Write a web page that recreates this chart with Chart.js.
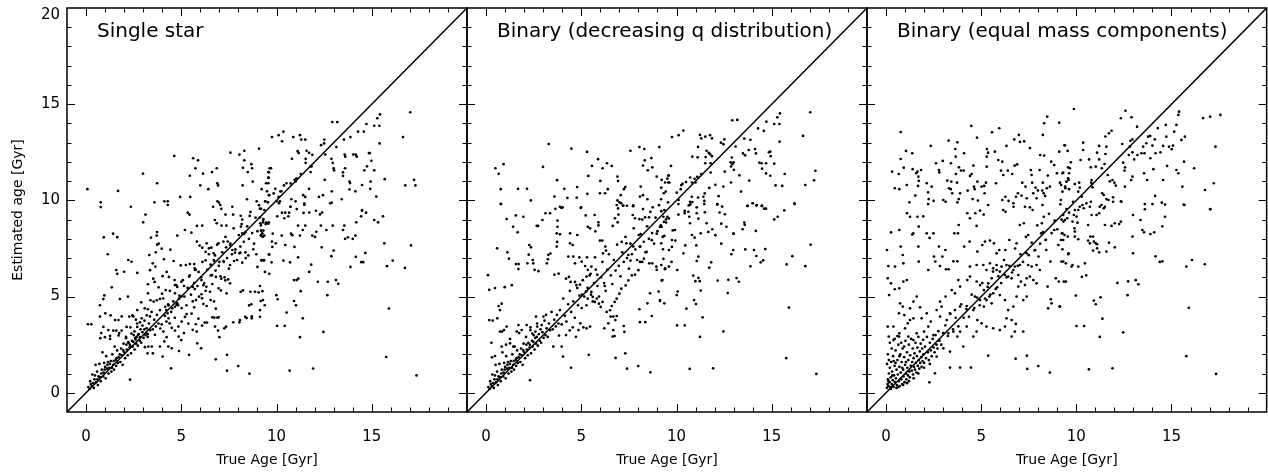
<!DOCTYPE html>
<html>
<head>
<meta charset="utf-8">
<script src="https://cdn.jsdelivr.net/npm/chart.js@4.4.1/dist/chart.umd.min.js"></script>
<style>
html,body{margin:0;padding:0;background:#fff;}
#wrap{position:relative;width:1268px;height:473px;}
#wrap canvas{position:absolute;left:0;top:0;}
</style>
</head>
<body>
<div id="wrap">
<canvas id="c1" width="1268" height="473"></canvas>
<canvas id="c2" width="1268" height="473"></canvas>
<canvas id="c3" width="1268" height="473"></canvas>
</div>
<script>
// ---------------- DATA ----------------
const panelTitles = ["Single star", "Binary (decreasing q distribution)", "Binary (equal mass components)"];
const xTitle = "True Age [Gyr]";
const yTitle = "Estimated age [Gyr]";
const axisRange = [-1, 20];
const xTickLabels = [0, 5, 10, 15];
const yTickLabels = [0, 5, 10, 15, 20];
const oneToOne = [[-1, -1], [20, 20]];

// dense core along the 1:1 line (young stars), seen in panels 1 and 2
const diagonalCore = [[0.12,0.3],[0.18,0.2],[0.22,0.6],[0.3,0.35],[0.33,0.95],[0.41,0.25],[0.44,0.7],[0.5,1.45],[0.53,0.55],[0.58,1.1],[0.62,0.4],[0.66,0.85],[0.7,1.5],[0.74,0.8],[0.77,0.6],[0.83,1.2],[0.86,2.1],[0.9,0.85],[0.95,1.55],[0.98,1.2],[1.03,0.75],[1.06,1.9],[1.1,1.25],[1.15,1.6],[1.18,1.0],[1.22,1.3],[1.26,2.8],[1.3,1.65],[1.33,1.1],[1.38,2.0],[1.42,1.45],[1.47,1.2],[1.5,2.4],[1.55,1.7],[1.58,1.4],[1.63,2.2],[1.67,1.55],[1.71,1.85],[1.74,3.1],[1.8,1.6],[1.84,2.3],[1.88,1.95],[1.92,1.45],[1.97,2.55],[2.01,2.1],[2.05,1.8],[2.1,2.9],[2.14,2.25],[2.19,1.95],[2.22,2.6],[2.28,2.35],[2.33,3.4],[2.36,2.05],[2.41,2.7],[2.45,2.4],[2.5,3.0],[2.55,2.25],[2.58,2.85],[2.63,2.55],[2.68,3.6],[2.72,2.45],[2.77,3.05],[2.82,2.7],[2.86,3.3],[2.9,2.6],[2.96,3.15],[3.02,2.85],[3.07,3.75],[3.12,3.0],[3.18,3.35],[3.24,2.9],[3.3,3.6],[3.36,3.25],[3.44,4.2],[3.5,3.3],[3.58,3.8],[3.66,3.45],[3.72,4.05],[3.8,3.6],[0.25,0.45],[0.38,0.5],[0.47,0.9],[0.6,0.7],[0.8,1.0],[0.92,1.05],[1.0,1.35],[1.12,1.45],[1.25,1.5],[1.36,1.3],[1.45,1.65],[1.6,1.8],[1.77,2.0],[1.95,2.2],[2.12,2.5],[2.3,2.5],[2.48,2.65],[2.66,2.9],
[3.88,4.3],[3.97,3.55],[4.05,4.9],[4.14,4.0],[4.22,3.7],[4.31,4.6],[4.4,5.3],[4.47,4.2],[4.58,4.75],[4.66,3.9],[4.74,5.6],[4.83,4.55],[4.9,5.05],[5.02,4.4],[5.08,5.85],[5.16,5.0],[5.27,4.55],[5.33,5.45],[5.44,6.1],[5.51,5.1],[5.6,4.75],[5.67,5.7],[5.76,6.4],[5.85,5.55],[5.93,5.0],[6.04,6.0],[6.11,6.8],[6.2,5.7],[6.28,5.3],[6.37,6.4],[6.45,7.2],[6.55,6.1],[6.63,5.65],[6.71,6.9],[6.8,6.35],[6.88,7.7],[6.97,6.6],[7.06,6.05],[7.15,7.3],[7.23,6.8],[7.32,8.1],[7.4,7.0],[7.5,6.45],[7.58,7.75],[7.66,7.2],[7.75,8.55],[7.84,7.45],[7.93,6.9],[8.02,8.2],[8.1,7.6],[8.2,9.0],[8.28,7.85],[8.37,7.3],[8.46,8.65],[8.55,8.0],[8.63,9.4],[8.72,8.3],[8.82,7.75],[8.9,9.1],[9.0,8.4],[9.08,9.75],[9.18,8.7],[9.27,8.1],[9.36,9.5],[9.45,8.85],[9.55,9.9]];

const singleStar = [[0.07,10.58],[0.77,9.9],[0.77,9.65],[1.68,10.49],[2.35,9.67],[2.99,11.39],[3.73,10.89],[3.59,9.9],[4.11,9.95],[4.29,9.95],[4.29,9.76],[4.63,12.31],[4.94,10.18],[5.47,10.18],[5.45,11.28],[5.62,12.19],[5.74,11.67],[5.88,12.08],[6.0,10.78],[6.14,11.39],[6.42,10.58],[6.61,11.47],[6.86,11.67],[6.89,10.89],[6.93,10.78],[6.9,9.95],[6.98,9.88],[7.05,9.76],[7.1,9.56],[6.67,9.67],[7.58,12.48],[8.05,12.38],[8.31,12.58],[8.31,12.08],[9.08,12.69],[8.24,11.69],[8.49,11.47],[8.68,11.88],[8.72,11.67],[8.75,10.98],[8.22,10.78],[8.45,10.06],[8.96,9.95],[9.19,9.56],[9.22,10.58],[9.42,9.95],[9.57,11.47],[9.57,11.18],[9.57,10.89],[9.6,10.27],[7.68,9.67],
[17.02,14.58],[15.43,14.47],[15.29,14.27],[15.13,13.88],[15.4,13.88],[14.72,13.97],[12.93,14.07],[13.19,14.07],[14.28,13.57],[14.58,13.57],[15.41,12.96],[16.64,13.29],[9.76,13.29],[10.11,13.39],[10.36,13.57],[10.29,13.07],[10.88,13.29],[11.23,13.39],[11.3,13.16],[11.51,13.16],[12.34,12.87],[12.5,12.96],[12.51,13.16],[13.54,13.16],[13.88,13.29],[13.14,12.77],[14.85,12.46],[14.9,12.46],[14.98,12.06],[14.03,12.38],[14.16,12.38],[14.21,12.27],[13.58,12.38],[13.61,12.27],[12.56,12.38],[12.88,12.16],[12.95,11.95],[13.0,11.67],[13.02,11.56],[13.6,11.67],[13.49,11.46],[13.49,11.27],[14.75,11.77],[14.61,11.56],[15.13,11.56],[14.94,10.98],[14.92,10.6],[15.24,10.2],[14.49,10.8],[15.68,11.1],[13.83,10.98],[13.86,10.9],[13.83,10.57],[14.14,10.47],[13.42,10.06],[16.76,10.78],[17.22,11.07],[17.29,10.78],[10.81,12.16],[11.11,12.56],[11.16,12.46],[11.53,12.16],[11.58,12.58],[11.71,12.47],[11.88,12.37],[11.53,11.95],[11.79,11.77],[11.84,11.77],[11.79,11.47],[11.71,10.6],[11.0,10.98],[10.95,11.07],[11.05,11.14],[10.74,10.88],[10.52,10.89],[10.39,10.78],[11.27,11.37],[9.64,11.67],[9.71,11.67],[9.6,11.46],[9.59,11.17],[9.45,10.89],[9.5,10.47],[9.94,10.6],[10.2,10.47],[10.25,10.47],[9.62,10.27],[9.85,10.36],[10.11,10.18],[10.01,9.95],[10.18,9.95],[10.13,9.85],[9.4,9.95],[10.78,10.06],[11.0,9.95],[10.73,9.67],[11.4,10.27],[11.51,10.18],[11.46,9.77],[12.23,10.18],[12.44,10.27],[12.9,10.47],[12.9,9.88],[12.53,11.07],[14.49,9.5],
[0.93,8.08],[1.42,8.27],[1.64,8.09],[1.14,7.2],[3.12,9.26],[3.0,8.86],[3.41,8.06],[3.71,8.17],[3.73,8.35],[3.81,7.75],[3.73,7.7],[3.97,7.49],[4.79,8.17],[5.19,8.46],[5.34,9.36],[5.43,9.26],[5.53,8.32],[5.82,8.67],[6.1,8.69],[5.82,7.86],[5.96,7.65],[6.1,7.54],[6.28,7.32],[6.76,8.98],[6.86,8.81],[7.11,8.69],[7.37,8.69],[7.32,9.26],[7.72,9.26],[8.12,9.2],[8.59,9.19],[8.17,8.77],[8.13,8.64],[8.2,8.29],[8.29,8.25],[8.36,8.34],[9.2,8.43],[9.25,8.29],[9.18,8.17],[9.15,8.81],[9.3,8.98],[9.57,8.79],[6.33,7.77],[6.45,7.51],[6.58,7.54],[6.7,7.25],[6.77,7.14],[6.95,7.77],[7.21,7.86],[7.44,7.86],[7.35,7.56],[7.56,7.68],[7.68,7.42],[7.82,7.28],[7.77,6.85],[8.05,7.25],[8.1,7.28],[7.56,6.64],[8.2,6.76],[8.38,7.0],[8.52,7.14],[8.78,7.46],[8.94,7.2],[9.0,6.54],[9.22,6.9],[9.35,6.9],[9.6,7.2],[9.13,5.55],[9.06,5.22],[8.87,5.25],[8.12,5.25],[8.24,5.32],[8.56,4.54],[8.63,5.25],[8.68,4.6],[8.7,3.97],[9.13,4.3],[9.29,4.82],[9.13,3.95],[8.36,3.95],[8.43,3.88],[8.08,3.78],[8.05,3.66],[7.73,3.66],[8.7,3.87],[6.28,6.88],[6.54,6.66],[6.73,6.85],[7.0,6.8],[7.22,6.85],[6.61,6.11],[6.82,6.02],[7.1,5.93],[7.27,6.0],[7.31,5.84],[7.46,5.89],[7.56,5.69],[7.38,5.17],[6.96,5.43],[7.08,5.32],[6.51,5.25],[6.32,5.51],[6.16,5.59],[6.06,5.86],[5.91,6.28],[5.72,6.38],[5.41,6.04],[5.14,5.55],[5.6,5.5],[5.71,5.39],[6.06,5.12],[6.09,4.91],[6.16,4.62],[6.33,4.51],[6.54,4.82],[6.72,4.75],[6.81,4.37],[6.63,3.92],[6.73,3.91],[6.89,3.91],[6.96,3.92],[6.23,3.65],[6.35,3.65],[6.09,3.49],[6.77,3.44],[6.93,3.23],[7.0,2.89],[7.26,3.35],[7.35,3.44],[6.81,1.74],[7.4,1.97],[7.4,1.15],[7.99,1.39],[8.58,0.99],[5.41,1.97],[4.88,2.17],[4.46,1.27],[4.02,1.88],[3.88,2.4],[4.23,2.89],[3.51,2.05],[3.23,2.05],[3.09,2.37],[2.31,0.68],[5.19,3.94],[5.28,4.09],[5.37,3.59],[5.54,4.11],[5.68,4.44],[5.77,4.82],[5.02,3.7],[4.85,3.44],[4.67,3.23],[4.5,3.37],[4.39,3.61],[4.33,3.87],[4.28,4.13],[4.21,4.3],[4.16,4.47],[4.33,4.54],[4.53,4.39],[4.67,4.47],[4.75,4.58],[4.79,4.65],[4.88,4.89],[4.67,5.17],[4.79,5.5],[5.0,5.0],[3.88,4.88],[3.71,4.81],[3.55,4.74],[3.38,4.81],[3.25,4.34],[3.08,4.39],[3.25,5.17],[3.81,5.48],[3.99,5.15],[4.18,5.34],[2.9,4.7],[2.69,4.3],[2.43,4.02],[2.27,3.96],[2.48,3.97],[2.62,3.8],[2.83,3.66],[2.96,3.49],[3.06,3.29],[3.15,3.11],[3.24,3.05],[2.69,3.42],[2.54,3.19],[2.38,3.08],[2.13,3.42],[1.87,3.23],[1.71,2.98],[1.59,3.23],[2.1,2.84],[2.22,2.63],[2.36,2.4],[2.6,2.77],[2.73,3.01],[2.83,2.89],[3.27,2.4],[3.45,2.4],[1.26,2.96],[0.99,2.89],[0.75,2.84],[0.8,3.1],[0.1,3.56],[0.28,3.56],[0.91,4.87],[1.35,5.48],[1.78,4.87],[2.2,5.0],[1.59,6.38],[1.64,6.18],[2.22,6.9],[2.39,6.81],[2.69,6.23],[2.0,6.29],[3.32,7.16],[3.5,6.73],[3.64,6.56],[3.36,6.37],[3.53,5.93],[3.6,5.76],[3.25,5.64],[4.02,6.06],[4.23,6.28],[4.35,6.02],[4.65,5.86],[4.67,5.6],[5.0,5.77],[4.97,6.62],[5.24,6.64],[5.45,6.69],[5.68,6.69],[5.7,6.47],[4.43,7.44],[4.6,6.85],[4.09,6.94],[3.66,7.3],[0.73,3.96],[1.01,4.13],[1.29,4.02],[1.52,3.78],[0.91,3.42],[1.17,3.26],[1.43,3.23],[1.87,3.97],[1.7,3.78],[3.19,4.03],[3.36,3.97],[2.92,3.87],[3.9,3.34],[4.06,3.18],[3.62,3.01],[4.11,2.67],[4.32,2.4],[4.5,2.31],[4.86,2.92],[5.0,2.74],[5.14,3.1],[5.6,3.27],[5.81,3.18],[5.84,2.57],[6.04,2.31],[5.76,3.56],[5.9,3.85],[0.73,4.55],[0.96,5.06],
[10.04,9.17],[10.29,9.36],[10.46,9.36],[10.41,9.07],[10.62,9.17],[10.66,9.36],[10.73,9.67],[9.13,9.57],[9.13,9.12],[9.31,9.03],[9.43,8.77],[9.59,8.86],[9.29,8.86],[9.19,8.43],[9.31,8.43],[9.19,8.19],[9.36,8.17],[9.8,8.27],[9.96,7.77],[9.76,7.86],[9.78,7.58],[9.62,7.18],[9.74,6.78],[9.2,6.87],[9.34,6.87],[9.39,6.28],[9.62,6.18],[9.26,5.28],[9.17,4.77],[9.38,4.55],[10.27,8.17],[10.76,8.27],[10.83,8.19],[10.46,7.68],[10.71,6.78],[10.94,7.58],[10.36,6.87],[9.99,5.07],[10.06,4.86],[10.53,4.17],[10.92,5.86],[11.06,5.86],[11.15,5.94],[10.92,4.77],[11.02,4.55],[11.27,5.28],[11.38,3.87],[10.03,3.48],[10.43,3.48],[11.23,2.89],[10.69,1.15],[11.92,1.26],[12.46,3.16],[11.13,8.69],[11.23,8.17],[11.42,9.35],[11.46,9.83],[11.06,9.55],[11.51,8.69],[11.38,8.46],[11.72,9.37],[11.88,8.17],[12.02,8.1],[12.09,8.37],[12.07,9.46],[12.28,9.27],[12.39,9.37],[11.13,7.04],[12.37,7.56],[12.62,8.46],[13.0,7.39],[12.88,7.1],[12.95,8.69],[12.33,8.69],[11.72,6.28],[11.82,6.66],[12.17,5.77],[12.69,5.77],[12.67,5.07],[13.12,5.86],[13.24,5.66],[12.82,9.85],[13.49,8.46],[13.56,8.69],[13.6,8.0],[13.75,8.08],[14.0,8.0],[14.14,8.17],[14.19,8.86],[14.44,9.17],[14.49,9.46],[14.7,9.36],[15.13,8.98],[15.33,8.86],[15.59,9.17],[14.16,7.06],[14.45,6.79],[14.55,6.79],[14.66,7.27],[13.88,6.54],[15.66,7.77],[15.8,6.58],[16.1,6.87],[16.74,6.49],[17.06,7.66],[15.9,4.38],[15.76,1.86],[17.35,0.9]];

const binaryDecreasingQ = [[0.49,11.67],[0.66,11.38],[0.92,11.88],[0.77,10.58],[0.77,9.82],[1.68,10.6],[2.15,10.6],[2.35,10.0],[2.99,11.74],[3.29,12.93],[3.73,11.05],[4.11,10.6],[3.59,10.2],[3.64,9.56],[3.96,9.61],[4.27,10.13],[4.78,10.69],[4.76,10.14],[4.48,12.69],[4.97,9.61],[5.3,12.52],[5.56,11.79],[5.88,12.14],[6.12,11.67],[6.35,11.93],[6.6,11.79],[5.37,11.27],[5.32,10.34],[5.98,10.37],[6.0,11.01],[6.25,10.37],[6.39,10.58],[6.9,11.24],[6.93,11.01],[7.31,10.69],[7.24,10.58],[6.9,10.0],[7.0,9.9],[7.07,10.27],[7.1,9.85],[7.18,9.72],[6.93,9.58],[7.58,12.58],[8.05,12.77],[8.31,12.67],[8.33,12.08],[8.24,11.81],[8.49,11.56],[8.68,12.2],[8.73,11.72],[9.1,12.77],[8.96,11.24],[9.2,10.66],[9.57,11.28],[9.57,10.93],[9.43,10.46],[9.33,10.37],[9.19,10.06],[8.12,10.72],[8.24,10.27],[8.47,10.06],[7.4,9.72],[7.72,9.7],[8.08,10.2],
[17.02,14.58],[15.43,14.52],[15.29,14.32],[15.13,13.97],[15.4,13.97],[14.72,14.09],[14.28,13.74],[14.58,13.61],[12.93,14.16],[13.19,14.18],[15.41,13.05],[16.64,13.35],[17.29,11.54],[17.22,11.04],[16.76,10.8],[15.68,11.37],[16.19,9.85],[9.76,13.29],[10.11,13.39],[10.36,13.63],[9.71,11.79],[11.23,13.4],[11.3,13.22],[11.51,13.31],[11.76,13.39],[11.86,13.22],[11.13,12.78],[10.83,12.27],[11.11,12.24],[11.53,12.25],[11.58,12.58],[11.69,12.47],[11.76,12.4],[11.86,12.3],[11.51,11.93],[11.79,11.93],[11.79,11.45],[11.3,11.36],[11.09,11.22],[10.95,11.12],[11.0,10.93],[10.81,10.93],[10.71,11.19],[10.5,10.95],[10.32,10.86],[10.25,10.79],[10.22,10.58],[10.01,10.4],[10.11,10.02],[9.59,11.3],[9.52,11.13],[9.62,10.93],[9.22,11.07],[9.4,10.93],[12.33,13.0],[12.51,13.17],[12.46,12.92],[13.1,12.8],[13.56,13.21],[13.88,13.15],[13.49,12.44],[13.6,12.34],[13.79,12.62],[14.12,12.67],[14.17,12.44],[14.35,11.96],[14.47,11.93],[14.7,11.93],[14.85,12.5],[14.92,12.53],[14.94,12.3],[14.49,11.65],[15.13,11.91],[14.7,11.4],[14.92,11.28],[15.2,10.78],[15.55,10.75],[13.82,11.03],[13.3,11.3],[13.01,11.59],[12.9,12.23],[12.84,11.98],[12.93,11.88],[13.0,11.98],[12.86,11.76],[12.86,10.93],[12.53,11.49],[12.04,10.81],[12.46,10.72],[13.39,10.46],[11.72,10.65],[12.21,10.22],[11.48,10.36],[11.41,10.19],[11.46,9.97],[10.8,10.19],[10.71,9.93],[10.64,9.74],[11.13,10.15],[12.14,9.81],[13.72,9.71],[14.0,9.85],[14.21,9.76],[14.47,9.71],[14.6,9.57],
[1.08,9.03],[1.56,9.22],[1.96,9.15],[1.42,8.63],[1.66,8.34],[0.58,7.51],[0.1,6.11],[0.17,5.35],[0.47,5.44],[0.98,5.49],[1.35,5.59],[1.12,7.3],[1.2,6.97],[1.57,6.69],[1.71,6.69],[1.7,6.43],[2.27,7.68],[2.36,7.56],[2.24,7.18],[2.17,6.73],[2.48,6.73],[2.55,6.39],[2.75,6.32],[2.45,6.9],[2.66,8.68],[2.73,8.67],[2.96,8.98],[3.12,9.33],[3.36,9.33],[3.75,8.95],[3.75,8.63],[3.71,8.29],[3.88,8.24],[3.88,9.67],[4.02,9.64],[3.73,7.84],[3.71,7.6],[3.38,7.24],[3.27,7.17],[3.19,6.73],[3.25,6.94],[0.79,9.81],
[4.41,8.29],[4.41,7.77],[4.55,7.68],[4.79,8.2],[4.32,7.08],[4.58,7.08],[4.67,6.73],[4.9,7.04],[4.99,9.64],[5.23,9.22],[5.34,8.63],[5.46,8.55],[5.74,8.39],[5.7,9.24],[5.9,8.86],[5.9,8.7],[5.98,7.91],[6.1,7.91],[6.26,7.6],[6.3,7.39],[6.14,7.25],[5.72,7.04],[5.3,7.04],[5.02,6.82],[5.2,6.59],[5.34,6.39],[5.53,6.56],[5.28,6.04],[5.49,6.18],[5.84,6.14],[6.23,5.55],[6.65,8.67],[6.77,9.07],[6.91,8.86],[6.95,9.26],[6.86,9.76],[7.21,9.73],[7.73,9.74],[7.7,9.24],[7.82,9.07],[8.05,9.03],[8.24,9.55],[8.35,9.12],[8.56,9.12],[8.75,9.64],[8.12,8.25],[8.07,7.6],[7.73,7.6],[7.37,7.77],[7.12,7.84],[7.47,7.16],[7.58,6.87],
[8.08,6.8],[8.29,6.97],[8.57,6.73],[8.73,6.73],[8.94,6.56],[9.2,6.64],[9.26,5.86],[9.4,6.47],[9.13,4.82],[9.06,5.26],[8.96,6.39],[8.61,5.17],[8.47,4.65],[8.05,4.34],[8.7,3.99],[8.08,3.67],[8.36,3.67],[7.23,3.47],[7.26,3.17],[6.68,3.26],[6.75,2.95],[6.65,2.92],[6.21,3.35],[6.42,3.61],[6.54,3.96],[6.68,3.96],[6.86,3.99],[6.79,3.78],[7.31,2.05],[7.4,1.25],[7.99,1.39],[8.63,1.06],[6.8,1.81],[5.39,1.97],[4.46,1.3],[4.04,1.88],[3.53,2.4],[3.97,2.4],[3.83,2.97],[4.2,3.0],[4.39,3.24],[4.55,3.4],[4.72,2.91],[4.85,3.26],[4.95,3.61],[5.11,3.4],[5.28,3.35],[5.46,3.44],
[3.59,6.14],[3.81,6.19],[4.2,5.93],[4.35,6.02],[4.44,5.76],[4.67,5.76],[4.79,5.45],[4.93,5.62],[5.04,5.1],[5.25,5.27],[5.34,4.89],[5.53,5.24],[5.6,4.98],[5.71,4.72],[5.81,4.89],[5.93,4.63],[6.02,4.46],[6.12,4.72],[6.33,4.2],[6.51,4.29],[6.6,4.51],[6.75,4.72],[6.86,4.89],[7.0,5.15],[7.1,5.41],[7.33,5.58],[7.47,5.84],[7.65,6.1],[7.82,6.14],[8.0,6.37],[8.2,6.8],[8.43,7.32],[8.7,7.93],[8.96,8.27],[9.13,8.62],[9.34,8.88],[9.52,9.14],
[0.17,3.78],[0.35,3.75],[0.73,3.18],[0.84,3.18],[0.94,3.26],[1.08,3.44],[0.73,4.3],[0.66,4.51],[0.82,4.63],[0.59,3.87],[0.28,2.6],[0.47,1.91],[0.31,1.84],[0.82,2.4],[1.05,2.5],[1.26,2.57],[1.43,2.4],[1.61,3.18],[1.7,3.52],[1.87,3.26],[2.13,3.52],[2.33,3.26],[2.43,3.08],[2.59,3.18],[2.69,3.44],[2.62,3.96],[3.01,3.96],[3.15,4.05],[2.92,3.52],[2.31,0.65],
[9.2,9.44],[9.31,9.15],[9.45,9.01],[9.6,9.06],[9.22,8.63],[9.36,8.15],[9.8,8.44],[9.92,8.46],[9.76,7.94],[9.94,7.91],[9.76,7.58],[9.6,7.42],[9.29,7.46],[9.2,7.77],[9.31,6.96],[9.4,6.42],[9.6,6.56],[9.74,6.8],[9.22,5.83],[9.13,4.77],[9.36,4.65],[10.1,9.81],[10.1,9.26],[10.04,6.38],[10.01,5.08],[10.06,5.26],[10.43,9.45],[10.43,9.33],[10.62,9.41],[10.67,9.15],[10.73,9.79],[10.83,9.91],[10.71,8.81],[11.06,9.64],[11.06,9.33],[11.15,9.05],[11.27,8.29],[10.81,8.2],[10.95,8.06],[11.04,7.66],[10.36,7.25],[10.46,7.66],[11.06,6.85],[11.15,7.08],[10.88,6.09],[10.99,5.8],[11.15,5.97],[11.22,5.8],[11.27,5.31],[10.92,4.82],[11.02,4.61],[10.52,4.37],[11.37,3.92],[10.03,3.5],[10.43,3.5],[11.23,2.9],[10.69,1.24],[11.92,1.27],[12.46,3.19],[12.69,5.18],[12.72,5.87],[13.15,5.96],[13.27,5.77],
[11.46,9.81],[11.49,9.38],[11.58,8.81],[11.67,8.36],[11.88,8.5],[12.04,8.19],[12.14,9.78],[12.39,9.68],[12.26,9.37],[12.54,9.28],[12.35,8.79],[12.62,8.63],[12.35,7.75],[12.98,8.27],[13.0,8.27],[12.88,7.2],[12.98,7.42],[11.82,6.78],[11.72,6.5],[12.16,5.83],
[13.47,8.5],[13.56,8.85],[13.58,8.73],[13.61,7.45],[13.74,9.71],[14.0,9.85],[14.19,9.73],[14.49,9.71],[14.7,9.57],[14.16,8.41],[14.07,7.42],[14.19,7.11],[13.88,6.57],[14.42,6.78],[14.55,6.88],[14.66,7.47],[15.13,9.01],[15.31,9.15],[15.66,9.48],[16.2,9.81],[15.78,6.67],[16.08,7.1],[16.76,6.58],[17.04,7.7],[15.9,4.43],[15.76,1.8],[17.34,0.98]];

const binaryEqualMass = [[0.32,11.49],[0.46,10.63],[0.7,10.58],[0.67,11.37],[0.77,12.15],[0.77,13.55],[0.93,11.7],[1.09,10.8],[1.23,9.9],[1.05,12.57],[1.38,12.45],[1.4,11.62],[1.54,10.25],[1.58,11.41],[1.65,11.49],[1.7,11.23],[1.72,11.01],[1.84,11.58],[1.68,10.75],[2.14,10.89],[2.21,10.42],[2.24,10.07],[2.21,9.81],[2.35,12.83],[2.4,10.71],[2.5,9.97],[2.63,11.93],[2.78,11.58],[2.8,11.46],[2.98,12.05],[3.01,10.02],[3.13,9.93],[3.22,11.03],[3.29,13.11],[3.4,10.58],[3.31,10.63],[3.41,11.93],[3.43,10.97],[3.48,10.37],[3.64,12.67],[3.66,12.27],[3.67,11.37],[3.75,13.02],[3.73,10.92],[3.83,11.72],[3.89,10.37],[3.82,10.07],[3.75,9.9],[3.94,11.55],[4.08,11.55],[4.1,12.45],[4.29,10.51],[4.41,11.27],[4.5,11.37],[4.55,10.07],[4.48,13.87],[4.59,11.81],[4.62,10.71],[4.66,10.58],[4.78,13.26],[4.8,10.97],[4.83,9.99],[5.02,10.71],[5.16,10.75],[5.25,10.92],[5.18,10.37],[5.29,12.27],[5.3,12.67],[5.36,12.48],[5.29,11.75],[5.57,13.54],[5.72,12.53],[5.78,10.89],[5.95,13.75],[5.9,12.1],[6.04,11.55],[6.11,12.01],[6.16,11.32],[6.11,10.02],[6.27,10.19],[6.33,12.83],[6.4,11.55],[6.44,9.97],[6.63,11.37],[6.7,9.67],[6.74,13.17],[6.76,11.81],[6.83,10.19],[6.89,11.87],[6.98,13.4],[7.04,13.04],[6.93,10.37],[7.12,10.25],[7.26,13.07],[7.16,10.92],[7.33,10.71],[7.39,10.11],[7.56,12.72],[7.61,11.58],[7.65,11.32],[7.68,10.92],[7.74,10.37],[7.86,10.66],[7.91,10.11],[7.98,10.52],[8.07,11.58],[8.1,12.36],[8.21,10.51],[8.24,10.92],[8.28,10.37],[8.31,12.33],[8.24,13.4],[8.31,14.01],[8.47,14.35],[8.36,10.23],[8.45,10.63],[8.5,11.29],[8.61,10.71],[8.68,12.01],[8.84,11.84],[8.98,11.41],[9.1,12.53],[9.1,14.04],[9.14,10.92],[9.2,10.8],[9.27,11.41],[9.31,11.44],[9.38,12.86],[9.43,10.63],[9.57,11.72],[9.59,11.06],
[9.87,14.75],[9.4,12.86],[9.54,12.57],[9.71,11.98],[9.66,11.67],[9.62,11.41],[9.57,11.15],[9.48,10.97],[9.41,10.71],[9.27,10.45],[9.19,10.02],[9.62,10.58],[9.92,10.85],[10.15,10.92],[10.18,10.66],[10.1,10.45],[10.29,10.19],[10.36,13.0],[10.36,12.62],[10.22,12.1],[10.67,12.13],[10.8,11.06],[10.78,10.92],[10.83,10.85],[10.85,10.68],[10.76,11.72],[11.02,11.75],[11.09,12.48],[11.2,12.83],[11.2,12.13],[11.34,11.67],[11.53,13.32],[11.71,13.49],[11.85,13.62],[11.58,12.79],[11.53,12.41],[11.48,11.89],[11.65,11.32],[11.36,10.37],[11.44,10.28],[11.58,10.07],[11.69,10.02],[11.93,10.16],[11.76,10.99],[11.9,11.06],[12.0,10.92],[12.07,10.77],[12.34,9.95],[12.46,11.96],[12.56,11.72],[12.53,11.55],[12.88,11.06],[12.95,11.23],[12.55,10.71],[12.34,14.27],[12.58,14.66],[12.9,14.32],[12.41,12.93],[12.84,13.1],[12.81,12.79],[12.95,13.17],[13.19,13.83],[12.76,12.36],[12.95,12.5],[13.04,12.13],[13.21,12.36],[13.42,12.45],[13.51,12.79],[13.58,12.45],[13.68,12.97],[13.77,13.31],[13.56,11.41],[13.72,11.06],[13.89,12.19],[14.05,11.62],[14.12,13.17],[14.16,12.45],[14.14,10.23],[13.88,13.35],[14.0,12.85],[14.28,13.76],[14.42,12.5],[14.56,12.83],[14.56,11.06],[14.7,13.92],[14.73,13.31],[14.77,11.79],[14.87,12.79],[15.08,12.85],[15.14,13.57],[15.26,13.92],[15.01,12.66],[15.4,14.61],[15.36,14.44],[15.52,13.14],[15.7,13.31],[15.66,12.01],[15.26,11.58],[15.36,11.41],[15.57,10.71],[15.68,9.76],[16.19,11.67],[16.66,14.28],[17.03,14.35],[17.57,14.44],[17.31,12.79],[16.76,10.54],[17.22,10.89],[17.04,9.54],
[0.26,8.34],[0.05,7.42],[0.12,6.59],[0.47,6.56],[0.7,8.46],[0.77,7.6],[0.88,7.16],[0.91,6.73],[1.1,9.33],[1.26,9.15],[1.38,8.22],[1.43,8.29],[1.65,9.15],[1.72,8.64],[1.7,7.6],[1.72,6.82],[1.96,9.17],[2.14,8.29],[2.22,6.38],[2.29,8.05],[2.49,8.29],[2.52,7.08],[2.59,6.82],[2.78,7.6],[2.83,6.59],[2.96,7.08],[3.12,7.42],[3.15,6.42],[3.29,6.42],[3.54,6.83],[3.59,8.29],[3.78,8.29],[3.75,6.83],[3.82,8.72],[4.11,7.6],[4.27,9.33],[4.41,9.07],[4.39,7.86],[4.69,9.33],[4.76,8.67],[4.8,7.34],[4.94,9.47],[5.13,9.26],[5.06,7.68],[5.2,7.86],[5.46,7.91],[5.37,9.76],[5.67,7.77],[5.81,7.25],[5.95,7.42],[6.16,9.5],[6.27,7.42],[6.28,9.41],[6.48,7.94],[6.69,9.85],[6.86,7.77],[7.03,8.72],[7.24,8.81],[7.3,9.67],[7.39,7.25],[7.47,8.2],[7.56,9.64],[7.7,9.5],[7.84,7.42],[8.01,7.08],[8.19,8.81],[8.22,9.76],[8.29,9.15],[8.15,8.29],[8.38,7.94],[8.42,7.42],[8.64,6.82],[8.84,8.46],[9.06,7.68],[9.24,8.29],[9.31,6.82],[9.59,7.25],[8.92,5.95],[9.08,5.78],[9.45,5.78],[8.49,5.52],[8.66,4.86],[8.7,4.65],[8.52,4.39],[9.13,4.48],
[0.09,5.95],[0.26,5.69],[0.16,5.08],[0.46,5.38],[0.7,5.43],[0.91,5.78],[1.09,5.86],[0.74,4.65],[0.68,4.13],[0.88,4.48],[0.96,4.04],[1.26,4.39],[1.44,4.74],[1.61,5.0],[1.79,4.44],[1.87,3.87],[1.44,3.87],[1.26,3.78],[1.14,3.61],[1.0,3.35],[0.7,3.09],[0.39,3.44],[0.09,3.44],[0.14,2.92],[0.39,2.74],[0.68,2.92],[1.17,2.92],[1.44,2.74],[1.61,3.09],[2.0,3.18],[2.22,3.44],[2.35,3.7],[2.14,4.13],[2.66,4.3],[2.92,4.48],[2.84,4.74],[3.13,5.0],[3.45,5.34],[3.62,5.17],[3.89,5.52],[3.8,5.86],[4.27,5.86],[4.41,6.04],[4.76,5.78],[4.94,5.6],[5.14,5.34],[5.37,5.69],[5.55,5.95],[5.28,6.38],[5.63,6.47],[5.81,6.64],[5.98,6.3],[6.25,6.12],[6.42,6.04],[6.6,5.95],[6.69,6.38],[6.95,6.12],[7.09,5.78],[7.3,5.6],[7.39,5.95],[7.56,6.04],[7.74,5.86],[7.91,5.69],[8.08,6.38],[7.91,6.64],[7.65,6.56],[7.47,6.64],[7.03,6.64],[6.77,6.56],[6.33,6.64],[6.07,6.56],[5.81,6.38],[5.46,6.73],[5.11,6.64],[4.76,6.64],[4.41,6.56],[2.84,3.96],[3.19,3.78],[3.36,4.13],[3.62,4.3],[3.89,4.48],[4.24,4.51],[4.59,4.3],[4.8,3.78],[4.67,5.0],[4.94,4.82],[5.14,4.48],[5.28,4.82],[5.43,5.0],[5.55,4.65],[5.63,5.17],[5.84,5.48],[5.98,5.08],[6.25,4.82],[6.42,4.3],[6.69,4.48],[6.86,5.0],[6.95,5.52],[7.21,4.82],[7.39,5.0],[6.33,3.87],[6.6,3.78],[6.82,3.58],[6.77,3.18],[6.6,2.92],[7.21,3.18],[6.25,3.44],[5.98,3.26],[5.63,3.35],[5.28,3.44],[5.02,3.61],[4.76,3.18],[4.59,2.92],[4.24,3.44],[3.89,3.18],[3.75,2.92],[3.54,3.18],[3.27,3.09],[3.01,3.09],[2.8,2.74],[2.49,3.0],
[5.37,1.93],[4.46,1.31],[3.89,1.31],[3.36,1.31],[6.81,1.77],[7.4,1.93],[7.42,1.24],[8.0,1.39],[8.61,1.05],[2.28,0.54],[2.57,1.01],[2.66,1.88],[4.06,2.4],[3.01,2.31],[3.36,2.14],
[0.05,0.25],[0.08,0.45],[0.1,0.7],[0.12,0.35],[0.15,1.0],[0.18,0.55],[0.2,1.3],[0.22,0.3],[0.25,0.8],[0.27,1.6],[0.3,0.45],[0.32,1.1],[0.35,0.65],[0.37,1.9],[0.4,0.3],[0.42,0.9],[0.45,1.4],[0.47,0.55],[0.5,2.2],[0.52,0.75],[0.55,1.2],[0.57,0.4],[0.6,1.7],[0.62,0.95],[0.65,2.5],[0.67,0.6],[0.7,1.35],[0.72,0.35],[0.75,2.0],[0.77,1.05],[0.8,0.7],[0.82,1.6],[0.85,0.45],[0.87,2.3],[0.9,1.2],[0.92,0.85],[0.95,1.85],[0.97,0.55],[1.0,1.45],[1.02,2.7],[1.05,1.0],[1.07,0.7],[1.1,2.1],[1.12,1.3],[1.15,0.9],[1.17,1.7],[1.2,2.5],[1.22,1.1],[1.25,0.8],[1.27,1.95],[1.3,1.4],[1.32,2.8],[1.35,1.15],[1.37,1.6],[1.4,2.3],[1.42,0.95],[1.45,1.8],[1.47,1.35],[1.5,2.05],[1.52,1.2],[1.55,2.6],[1.57,1.55],[1.6,1.05],[1.62,1.9],[1.65,2.35],[1.67,1.4],[1.7,2.9],[1.72,1.7],[1.75,1.25],[1.77,2.15],[1.8,1.55],[1.82,2.55],[1.85,1.85],[1.87,1.35],[1.9,2.3],[1.92,1.65],[1.95,2.75],[1.97,2.0],[2.0,1.55],[2.05,2.4],[2.1,1.8],[2.15,2.9],[2.2,2.1],[2.25,1.7],[2.3,2.6],[2.35,2.2],[2.4,1.9],[2.45,2.8],[2.5,2.35],[2.55,2.1],[2.6,3.0],[2.65,2.5],[2.7,2.3],[2.75,3.2],[2.8,2.7],[2.9,2.5],[3.0,3.1],[0.1,2.0],[0.2,2.6],[0.3,2.3],[0.15,1.7],[0.45,2.8],[0.6,2.95],[0.05,1.5],[0.25,0.2],[0.55,0.25],[0.35,0.35],[0.65,0.3],[0.9,0.4],[1.1,0.5],[0.4,1.65],[0.7,1.9],[0.8,2.6],[0.95,2.4],[1.2,0.6],[1.45,0.75],[1.7,1.0],[2.0,1.3],[2.3,1.5],[0.13,0.6],[0.33,0.9],[0.5,1.55],[0.85,1.3],[1.05,1.6],
[3.12,3.5],[3.25,2.95],[3.38,4.1],[3.52,3.3],[3.66,3.9],[3.8,3.45],[3.95,4.6],[4.08,3.9],[4.22,4.35],[4.36,3.95],[4.5,5.1],[4.64,4.4],[4.78,4.95],[4.92,4.55],[5.06,5.7],[5.2,4.9],[5.34,5.5],[5.48,5.1],[5.62,6.3],[5.76,5.4],[5.9,6.05],[6.05,5.7],[6.2,6.9],[6.34,6.0],[6.48,6.6],[6.62,6.25],[6.78,7.5],[6.92,6.6],[7.06,7.2],[7.2,6.8],[7.35,8.1],[7.5,7.15],[7.65,7.8],[7.8,7.4],[7.95,8.7],[8.1,7.75],[8.25,8.35],[8.4,7.95],[8.56,9.3],[8.7,8.3],[8.86,8.95],[9.0,8.5],[9.16,9.8],[9.32,8.9],[9.48,9.55],
[9.83,9.93],[9.92,9.5],[9.87,9.24],[10.01,9.16],[10.1,9.5],[10.18,9.67],[10.32,9.76],[10.39,9.59],[10.53,9.85],[10.71,9.67],[10.76,9.93],[11.23,9.67],[11.44,9.59],[11.5,9.67],[11.93,9.93],[12.37,9.93],[9.8,8.9],[9.52,9.07],[9.62,9.36],[9.31,9.24],[9.22,9.0],[9.4,8.98],[9.9,8.55],[9.92,8.38],[9.92,8.12],[10.06,8.84],[10.1,7.98],[10.62,8.72],[10.74,8.12],[10.88,8.12],[10.92,7.86],[11.02,7.77],[11.09,7.72],[11.09,7.51],[10.88,7.39],[10.71,7.77],[10.62,7.91],[11.2,7.3],[10.8,9.24],[11.06,9.24],[11.2,9.33],[11.32,9.76],[11.5,8.72],[11.72,7.8],[11.85,8.67],[12.02,8.81],[12.25,8.77],[12.34,8.9],[12.02,7.56],[11.58,7.34],[9.27,8.29],[9.31,7.94],[9.38,8.2],[9.55,8.12],[9.57,7.2],[9.27,7.46],[9.19,7.94],[9.22,6.82],[9.45,6.73],[9.75,6.56],[9.8,6.64],[10.1,6.56],[10.29,6.02],[10.52,6.1],[10.45,6.73],[9.34,5.78],[9.13,4.48],[9.97,5.05],[10.92,4.79],[11.02,4.6],[11.27,4.96],[11.37,3.85],[10.01,3.47],[10.41,3.47],[11.23,2.9],[10.66,1.22],[11.9,1.27],[12.46,3.14],[12.69,5.07],[12.72,5.79],[13.12,5.85],[13.26,5.64],[12.16,5.71],[12.95,8.12],[12.98,7.25],[12.98,9.24],[13.37,8.98],[13.47,8.46],[13.56,8.34],[13.6,9.81],[13.6,9.54],[14.0,9.81],[14.09,8.34],[13.89,8.25],[14.16,7.09],[14.38,6.8],[14.52,6.83],[14.52,8.65],[14.66,9.15],[14.49,9.88],[14.66,9.78],[15.64,9.78],[17.03,9.55],[15.78,6.56],[16.08,6.9],[16.75,6.68],[15.91,4.42],[15.78,1.9],[17.34,0.98]];

// ---------------- DRAWING ----------------
const FONT = '"DejaVu Sans", sans-serif';
const panels = [
  { id: 'c1', points: singleStar.concat(diagonalCore), title: panelTitles[0], left: 67, right: 467, yLabels: true },
  { id: 'c2', points: binaryDecreasingQ.concat(diagonalCore), title: panelTitles[1], left: 467, right: 867, yLabels: false },
  { id: 'c3', points: binaryEqualMass, title: panelTitles[2], left: 867, right: 1267, yLabels: false }
];
const W = 1268, H = 473, TOP = 8, BOTTOM = 412;

const framePlugin = {
  id: 'idlFrame',
  afterDraw(chart, args, opts) {
    const { ctx, chartArea: a } = chart;
    const xs = chart.scales.x, ys = chart.scales.y;
    ctx.save();
    ctx.strokeStyle = '#000';
    ctx.lineWidth = 1.5;
    ctx.strokeRect(a.left, a.top, a.right - a.left, a.bottom - a.top);
    ctx.lineWidth = 1;
    ctx.beginPath();
    for (let v = axisRange[0] + 1; v < axisRange[1]; v++) {
      const major = v % 5 === 0;
      const len = major ? 8 : 4.5;
      const px = Math.round(xs.getPixelForValue(v)) + 0.5;
      ctx.moveTo(px, a.bottom); ctx.lineTo(px, a.bottom - len);
      ctx.moveTo(px, a.top); ctx.lineTo(px, a.top + len);
      const py = Math.round(ys.getPixelForValue(v)) + 0.5;
      ctx.moveTo(a.left, py); ctx.lineTo(a.left + len, py);
      ctx.moveTo(a.right, py); ctx.lineTo(a.right - len, py);
    }
    ctx.stroke();
    ctx.fillStyle = '#000';
    ctx.font = '15px ' + FONT;
    ctx.textAlign = 'center';
    ctx.textBaseline = 'middle';
    xTickLabels.forEach(v => ctx.fillText(String(v), xs.getPixelForValue(v), 437));
    if (opts.yLabels) {
      ctx.textAlign = 'right';
      yTickLabels.forEach(v => {
        let py = ys.getPixelForValue(v);
        if (v === 20) py += 7;
        ctx.fillText(String(v), a.left - 7, py);
      });
      ctx.save();
      ctx.font = '14px ' + FONT;
      ctx.translate(18, (a.top + a.bottom) / 2);
      ctx.rotate(-Math.PI / 2);
      ctx.textAlign = 'center';
      ctx.fillText(yTitle, 0, 0);
      ctx.restore();
    }
    ctx.font = '14px ' + FONT;
    ctx.textAlign = 'center';
    ctx.fillText(xTitle, (a.left + a.right) / 2, 460);
    ctx.font = '20px ' + FONT;
    ctx.textAlign = 'left';
    ctx.textBaseline = 'alphabetic';
    ctx.fillText(opts.title, a.left + 30, 37);
    ctx.restore();
  }
};

panels.forEach(p => {
  new Chart(document.getElementById(p.id), {
    type: 'scatter',
    data: {
      datasets: [
        {
          data: p.points.map(d => ({ x: d[0], y: d[1] })),
          pointRadius: 1.35,
          pointBorderWidth: 0,
          pointBackgroundColor: '#000',
          pointHoverRadius: 1.35
        },
        {
          data: oneToOne.map(d => ({ x: d[0], y: d[1] })),
          showLine: true,
          borderColor: '#000',
          borderWidth: 1.5,
          pointRadius: 0
        }
      ]
    },
    options: {
      responsive: false,
      animation: false,
      devicePixelRatio: 1,
      events: [],
      layout: { padding: { left: p.left, right: W - p.right, top: TOP, bottom: H - BOTTOM } },
      plugins: {
        legend: { display: false },
        tooltip: { enabled: false },
        idlFrame: { title: p.title, yLabels: p.yLabels }
      },
      scales: {
        x: { type: 'linear', min: axisRange[0], max: axisRange[1], display: false },
        y: { type: 'linear', min: axisRange[0], max: axisRange[1], display: false }
      }
    },
    plugins: [framePlugin]
  });
});
</script>
</body>
</html>
